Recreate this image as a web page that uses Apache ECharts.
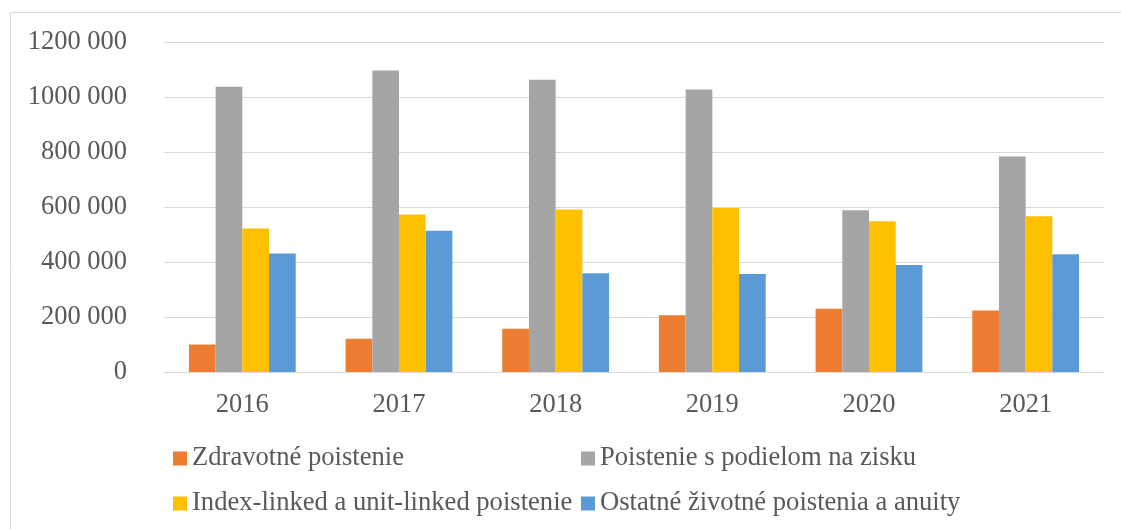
<!DOCTYPE html>
<html>
<head>
<meta charset="utf-8">
<script src="https://cdn.jsdelivr.net/npm/echarts@6/dist/echarts.min.js"></script>
<style>
html,body{margin:0;padding:0;background:#fff;}
#c{width:1121px;height:529px;}
</style>
</head>
<body>
<div id="c"></div>
<script>
const categories = ['2016','2017','2018','2019','2020','2021'];
const seriesNames = ['Zdravotné poistenie','Poistenie s podielom na zisku','Index-linked a unit-linked poistenie','Ostatné životné poistenia a anuity'];
const zdravotne = [100000, 121000, 157000, 206000, 230000, 224000];
const podiel = [1037000, 1096000, 1063000, 1027000, 588000, 784000];
const indexLinked = [522000, 573000, 591000, 596000, 548000, 566000];
const ostatne = [431000, 514000, 359000, 356000, 389000, 428000];
const yTickLabels = ['0','200 000','400 000','600 000','800 000','1000 000','1200 000'];
const colors = ['#ED7D31','#A5A5A5','#FFC000','#5B9BD5'];

const font = "'Liberation Serif','Times New Roman',serif";
const txt = '#595959';
const chart = echarts.init(document.getElementById('c'));
const values = [zdravotne, podiel, indexLinked, ostatne];
const legendPos = [[173,445],[581,445],[173,490],[581,490]];

chart.setOption({
  animation:false,
  graphic:[{type:'rect',shape:{x:10.5,y:12.5,width:1200,height:600},style:{fill:'none',stroke:'#d9d9d9',lineWidth:1},silent:true,z:-1}],
  grid:{left:164,right:17,top:42,bottom:157},
  legend: seriesNames.map((n,i)=>({
    data:[n], left:legendPos[i][0], top:legendPos[i][1], icon:'rect', itemWidth:14, itemHeight:14,
    textStyle:{fontFamily:font,fontSize:26.6,color:txt}, padding:0
  })),
  xAxis:{type:'category',data:categories,
    axisLine:{lineStyle:{color:'#d9d9d9',width:1}},axisTick:{show:false},
    axisLabel:{fontFamily:font,fontSize:26.5,color:txt,margin:20}},
  yAxis:{type:'value',min:0,max:1200000,interval:200000,
    axisLine:{show:false},axisTick:{show:false},
    splitLine:{lineStyle:{color:'#d9d9d9',width:1}},
    axisLabel:{fontFamily:font,fontSize:26.5,color:txt,margin:37,
      formatter:(v)=>yTickLabels[Math.round(v/200000)]}},
  series: seriesNames.map((n,i)=>({
    name:n,type:'bar',data:values[i],barWidth:26.7,barGap:'0%',
    itemStyle:{color:colors[i]}
  }))
});
</script>
</body>
</html>
